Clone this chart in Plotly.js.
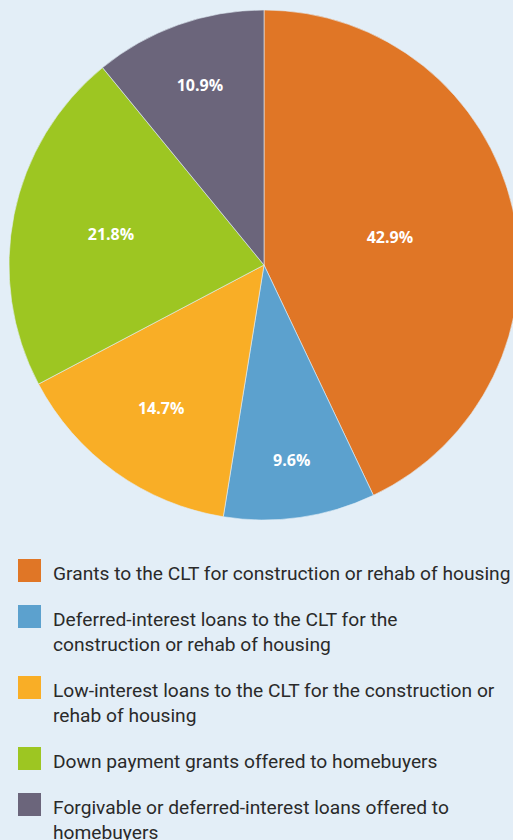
<!DOCTYPE html>
<html>
<head>
<meta charset="utf-8">
<script src="https://cdn.plot.ly/plotly-3.0.1.min.js"></script>
<style>
html, body { margin: 0; padding: 0; background: #E3EEF7; overflow: hidden; }
#chart { width: 530px; height: 840px; }
</style>
</head>
<body>
<div id="chart"></div>
<script>
// Data
var categories = [
  "Grants to the CLT for construction or rehab of housing",
  "Deferred-interest loans to the CLT for the<br>construction or rehab of housing",
  "Low-interest loans to the CLT for the construction or<br>rehab of housing",
  "Down payment grants offered to homebuyers",
  "Forgivable or deferred-interest loans offered to<br>homebuyers"
];
var shares = [42.9, 9.6, 14.7, 21.8, 10.9];
var colors = ["#E07626", "#5CA1CE", "#F9AE26", "#9DC622", "#6B657B"];

// Layout constants (pixels)
var W = 530, H = 840;
var cx = 264, cy = 265, R = 255;
var legendX0 = 18, legendSq = 23, legendTextX = 51;
var legendY0 = 573, itemGap = 46, lineGap = 25;

var trace = {
  type: "pie",
  values: shares,
  labels: categories,
  marker: { colors: colors, line: { color: "#E3EEF7", width: 0.6 } },
  sort: false,
  direction: "clockwise",
  rotation: 0,
  texttemplate: "%{value:.1f}%",
  textposition: "inside",
  insidetextorientation: "horizontal",
  textfont: { family: "'Open Sans', sans-serif", size: 16, color: "#FFFFFF", weight: 700 },
  hoverinfo: "none",
  showlegend: false,
  domain: {
    x: [(cx - R) / W, (cx + R) / W],
    y: [1 - (cy + R) / H, 1 - (cy - R) / H]
  }
};

var shapes = [];
var annotations = [];
var y = legendY0;
for (var i = 0; i < categories.length; i++) {
  var lines = categories[i].split("<br>");
  var sqc = y - 2.5;
  shapes.push({
    type: "rect", xref: "paper", yref: "paper",
    x0: legendX0 / W, x1: (legendX0 + legendSq) / W,
    y0: 1 - (sqc + legendSq / 2) / H, y1: 1 - (sqc - legendSq / 2) / H,
    fillcolor: colors[i], line: { width: 0 }
  });
  for (var j = 0; j < lines.length; j++) {
    annotations.push({
      xref: "paper", yref: "paper",
      x: legendTextX / W, y: 1 - (y + j * lineGap) / H,
      xanchor: "left", yanchor: "middle",
      text: lines[j], showarrow: false,
      font: { family: "Roboto, sans-serif", size: 19.2, color: "#2A2A2A" }
    });
  }
  y += itemGap + lineGap * (lines.length - 1);
}

var layout = {
  width: W, height: H,
  margin: { l: 0, r: 0, t: 0, b: 0 },
  paper_bgcolor: "#E3EEF7",
  plot_bgcolor: "#E3EEF7",
  shapes: shapes,
  annotations: annotations,
  showlegend: false
};

Plotly.newPlot("chart", [trace], layout, { displayModeBar: false, staticPlot: true });
</script>
</body>
</html>
